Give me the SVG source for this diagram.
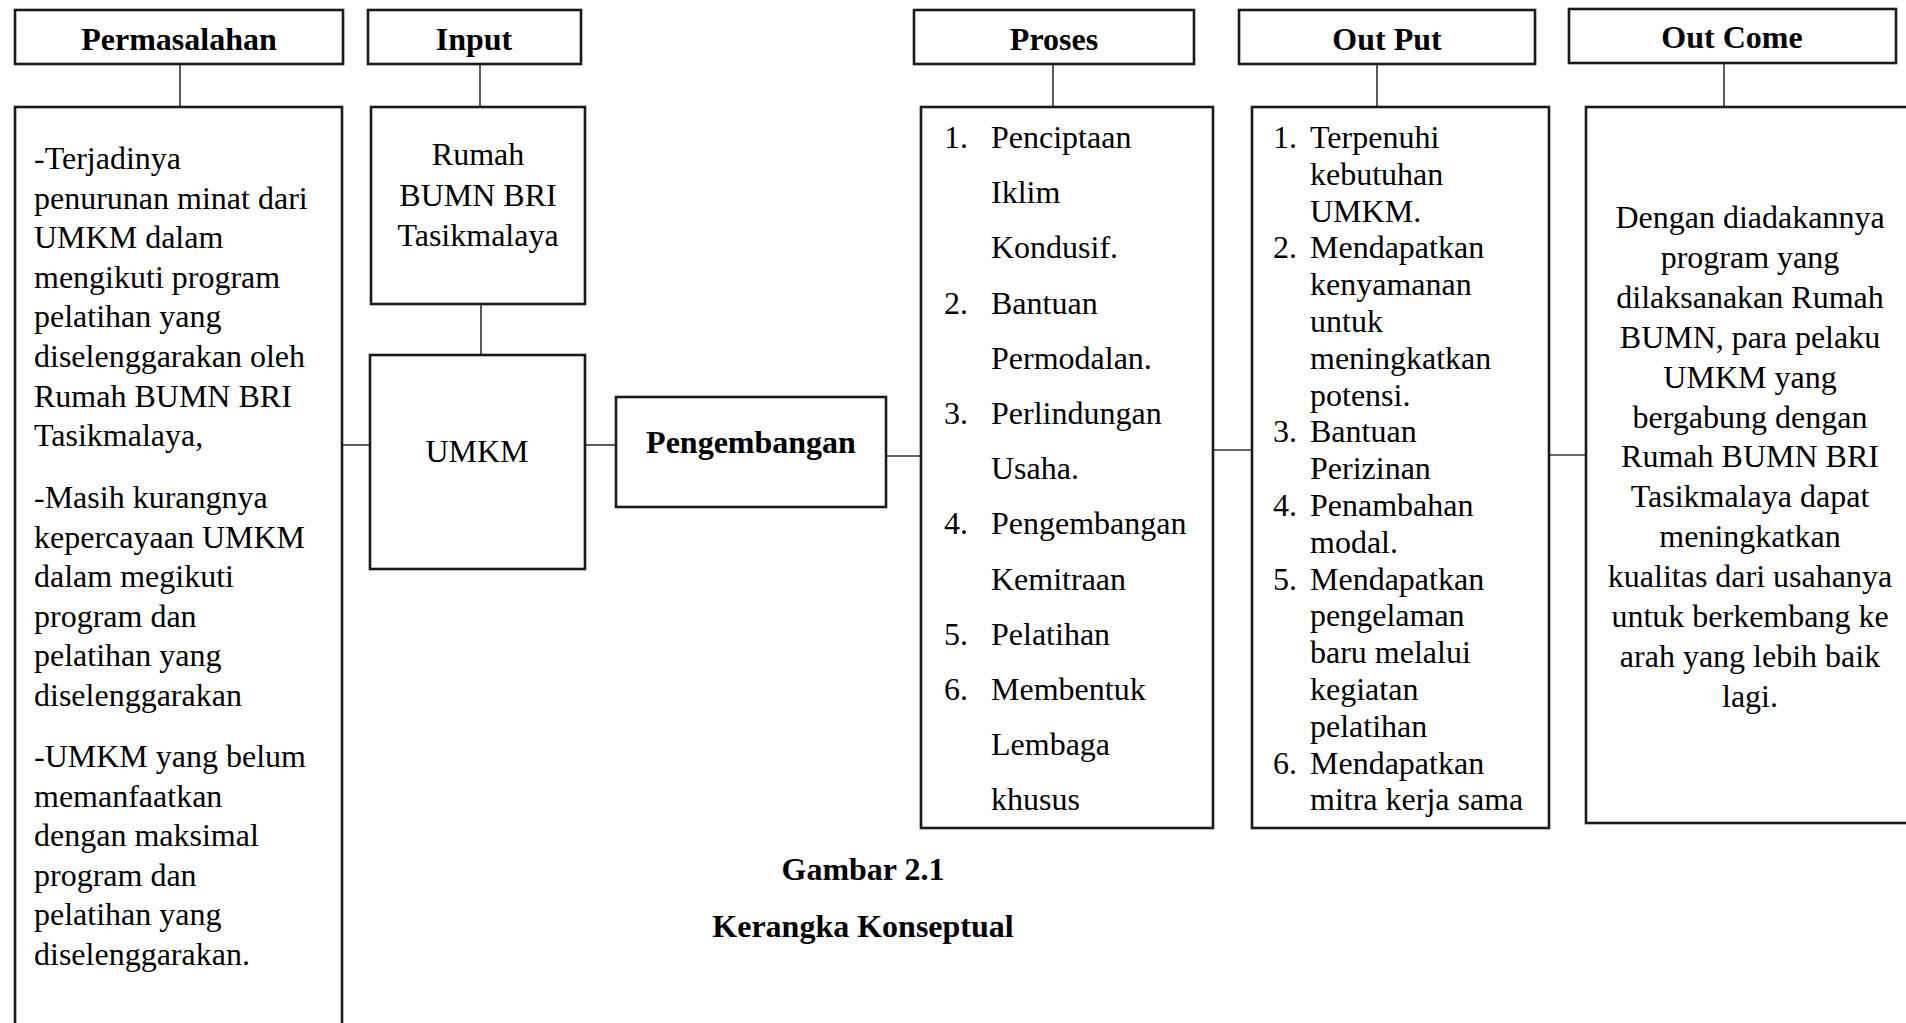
<svg xmlns="http://www.w3.org/2000/svg" width="1906" height="1023" viewBox="0 0 1906 1023">
<style>
.box{fill:#fff;stroke:#1a1a1a;stroke-width:2.6}
.con line{stroke:#333;stroke-width:1.6}
text{font-family:"Liberation Serif","Times New Roman",serif;font-size:32px;fill:#000}
.h{font-weight:bold;text-anchor:middle}
.c{text-anchor:middle}
</style>
<rect x="0" y="0" width="1906" height="1023" fill="#fff"/>
<g class="con">
<line x1="180" y1="64" x2="180" y2="107"/>
<line x1="480" y1="64" x2="480" y2="107"/>
<line x1="1053" y1="64" x2="1053" y2="107"/>
<line x1="1377" y1="64" x2="1377" y2="107"/>
<line x1="1724" y1="63" x2="1724" y2="107"/>
<line x1="481" y1="304" x2="481" y2="355"/>
<line x1="342" y1="445" x2="370" y2="445"/>
<line x1="585" y1="445" x2="616" y2="445"/>
<line x1="886" y1="456" x2="921" y2="456"/>
<line x1="1213" y1="450" x2="1252" y2="450"/>
<line x1="1549" y1="455" x2="1586" y2="455"/>
</g>
<g id="h-permasalahan"><rect class="box" x="15" y="10" width="328" height="54"/><text class="h" x="179" y="50">Permasalahan</text></g>
<g id="h-input"><rect class="box" x="368" y="10" width="213" height="54"/><text class="h" x="474" y="50">Input</text></g>
<g id="h-proses"><rect class="box" x="914" y="10" width="280" height="54"/><text class="h" x="1054" y="50">Proses</text></g>
<g id="h-output"><rect class="box" x="1239" y="10" width="296" height="54"/><text class="h" x="1387" y="50">Out Put</text></g>
<g id="h-outcome"><rect class="box" x="1569" y="9" width="327" height="54"/><text class="h" x="1732" y="48">Out Come</text></g>
<g id="permasalahan">
<rect class="box" x="15" y="107" width="327" height="940"/>
<text x="34" y="169">-Terjadinya</text>
<text x="34" y="208.6">penurunan minat dari</text>
<text x="34" y="248.2">UMKM dalam</text>
<text x="34" y="287.8">mengikuti program</text>
<text x="34" y="327.4">pelatihan yang</text>
<text x="34" y="367">diselenggarakan oleh</text>
<text x="34" y="406.6">Rumah BUMN BRI</text>
<text x="34" y="446.2">Tasikmalaya,</text>
<text x="34" y="508">-Masih kurangnya</text>
<text x="34" y="547.6">kepercayaan UMKM</text>
<text x="34" y="587.2">dalam megikuti</text>
<text x="34" y="626.8">program dan</text>
<text x="34" y="666.4">pelatihan yang</text>
<text x="34" y="706">diselenggarakan</text>
<text x="34" y="767">-UMKM yang belum</text>
<text x="34" y="806.6">memanfaatkan</text>
<text x="34" y="846.2">dengan maksimal</text>
<text x="34" y="885.8">program dan</text>
<text x="34" y="925.4">pelatihan yang</text>
<text x="34" y="965">diselenggarakan.</text>
</g>
<g id="rumah">
<rect class="box" x="371" y="107" width="214" height="197"/>
<text class="c" x="478" y="165">Rumah</text>
<text class="c" x="478" y="206">BUMN BRI</text>
<text class="c" x="478" y="246">Tasikmalaya</text>
</g>
<g id="umkm">
<rect class="box" x="370" y="355" width="215" height="214"/>
<text class="c" x="477" y="462">UMKM</text>
</g>
<g id="pengembangan">
<rect class="box" x="616" y="397" width="270" height="110"/>
<text class="h" x="751" y="453">Pengembangan</text>
</g>
<g id="proses">
<rect class="box" x="921" y="107" width="292" height="721"/>
<text x="944" y="148">1.</text><text x="991" y="148">Penciptaan</text>
<text x="991" y="203.2">Iklim</text>
<text x="991" y="258.4">Kondusif.</text>
<text x="944" y="313.6">2.</text><text x="991" y="313.6">Bantuan</text>
<text x="991" y="368.8">Permodalan.</text>
<text x="944" y="424">3.</text><text x="991" y="424">Perlindungan</text>
<text x="991" y="479.2">Usaha.</text>
<text x="944" y="534.4">4.</text><text x="991" y="534.4">Pengembangan</text>
<text x="991" y="589.6">Kemitraan</text>
<text x="944" y="644.8">5.</text><text x="991" y="644.8">Pelatihan</text>
<text x="944" y="700">6.</text><text x="991" y="700">Membentuk</text>
<text x="991" y="755.2">Lembaga</text>
<text x="991" y="810.4">khusus</text>
</g>
<g id="output">
<rect class="box" x="1252" y="107" width="297" height="721"/>
<text x="1273" y="148">1.</text><text x="1310" y="148">Terpenuhi</text>
<text x="1310" y="184.8">kebutuhan</text>
<text x="1310" y="221.6">UMKM.</text>
<text x="1273" y="258.4">2.</text><text x="1310" y="258.4">Mendapatkan</text>
<text x="1310" y="295.2">kenyamanan</text>
<text x="1310" y="332">untuk</text>
<text x="1310" y="368.8">meningkatkan</text>
<text x="1310" y="405.6">potensi.</text>
<text x="1273" y="442.4">3.</text><text x="1310" y="442.4">Bantuan</text>
<text x="1310" y="479.2">Perizinan</text>
<text x="1273" y="516">4.</text><text x="1310" y="516">Penambahan</text>
<text x="1310" y="552.8">modal.</text>
<text x="1273" y="589.6">5.</text><text x="1310" y="589.6">Mendapatkan</text>
<text x="1310" y="626.4">pengelaman</text>
<text x="1310" y="663.2">baru melalui</text>
<text x="1310" y="700">kegiatan</text>
<text x="1310" y="736.8">pelatihan</text>
<text x="1273" y="773.6">6.</text><text x="1310" y="773.6">Mendapatkan</text>
<text x="1310" y="810.4">mitra kerja sama</text>
</g>
<g id="outcome">
<rect class="box" x="1586" y="107" width="340" height="716"/>
<text class="c" x="1750" y="228">Dengan diadakannya</text>
<text class="c" x="1750" y="267.9">program yang</text>
<text class="c" x="1750" y="307.8">dilaksanakan Rumah</text>
<text class="c" x="1750" y="347.7">BUMN, para pelaku</text>
<text class="c" x="1750" y="387.6">UMKM yang</text>
<text class="c" x="1750" y="427.5">bergabung dengan</text>
<text class="c" x="1750" y="467.4">Rumah BUMN BRI</text>
<text class="c" x="1750" y="507.3">Tasikmalaya dapat</text>
<text class="c" x="1750" y="547.2">meningkatkan</text>
<text class="c" x="1750" y="587.1">kualitas dari usahanya</text>
<text class="c" x="1750" y="627">untuk berkembang ke</text>
<text class="c" x="1750" y="666.9">arah yang lebih baik</text>
<text class="c" x="1750" y="706.8">lagi.</text>
</g>
<g id="caption">
<text class="h" x="863" y="880">Gambar 2.1</text>
<text class="h" x="863" y="937">Kerangka Konseptual</text>
</g>
</svg>
